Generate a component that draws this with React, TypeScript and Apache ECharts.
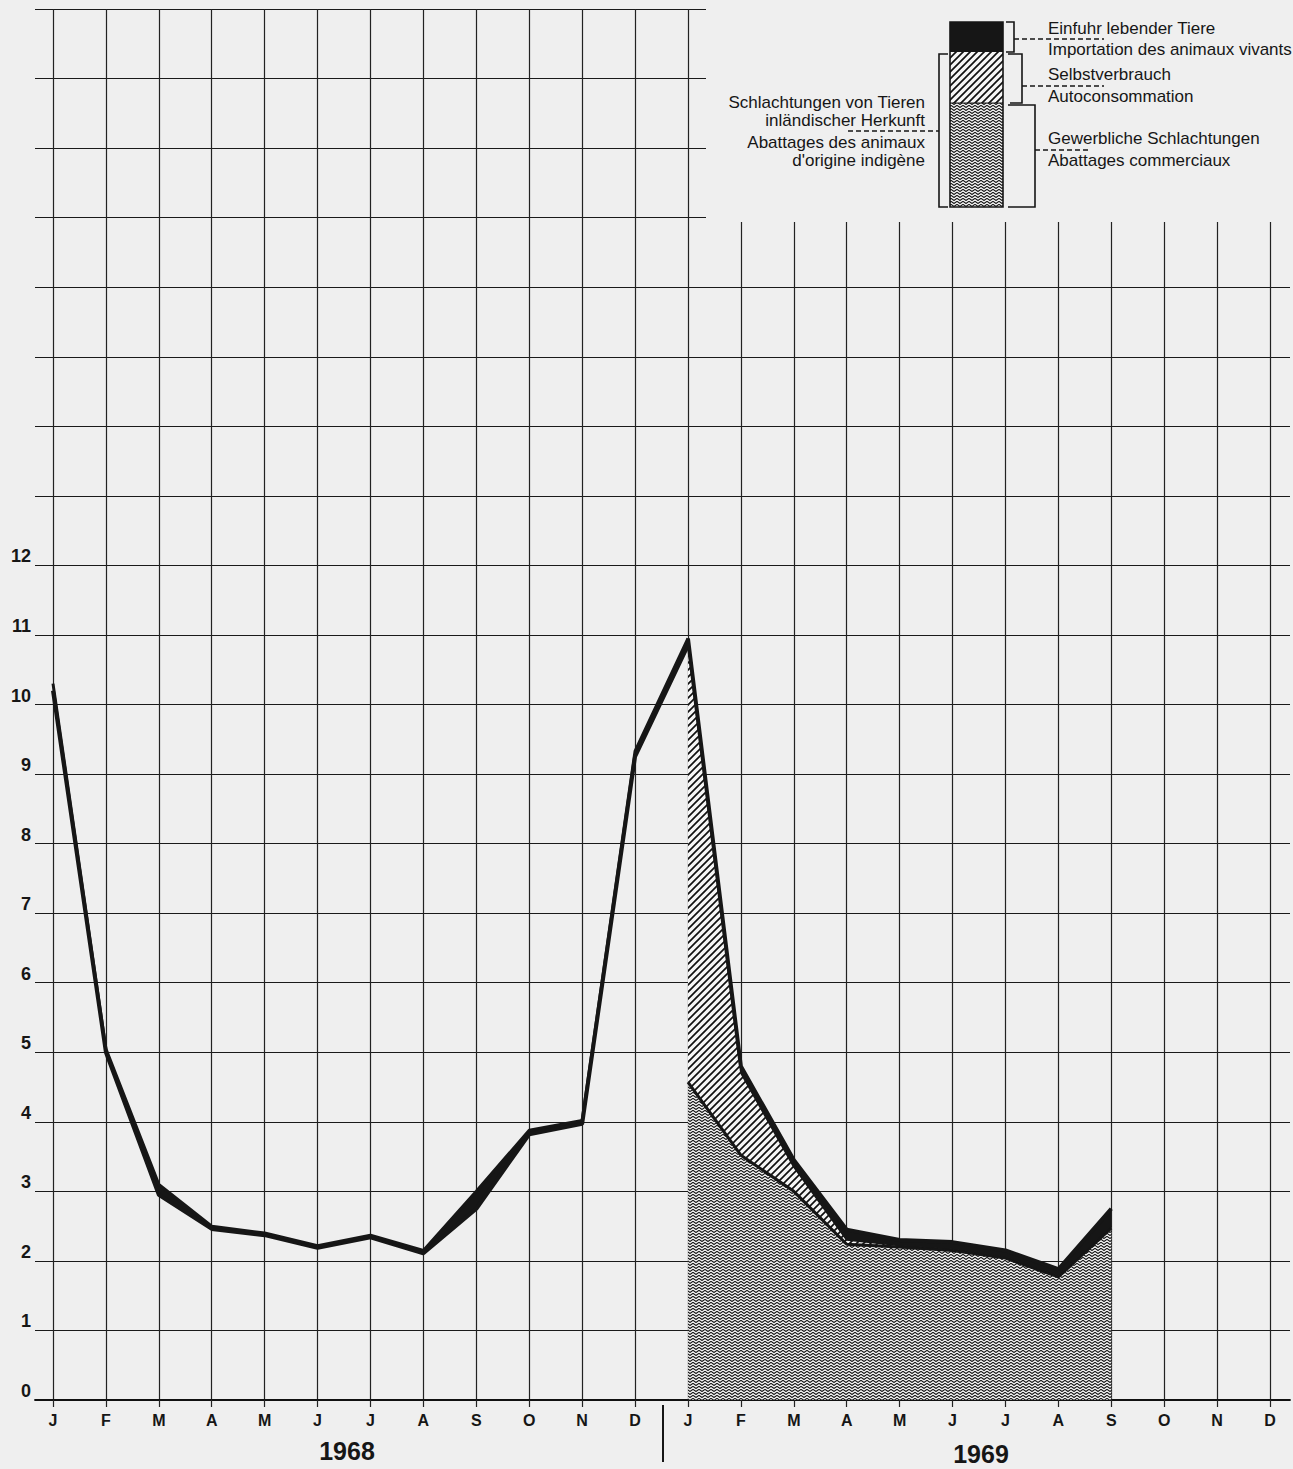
import React, { useEffect, useRef } from "react";
import * as echarts from "echarts";

const monthLabels = ["J", "F", "M", "A", "M", "J", "J", "A", "S", "O", "N", "D", "J", "F", "M", "A", "M", "J", "J", "A", "S", "O", "N", "D"];
const yTickLabels = ["0", "1", "2", "3", "4", "5", "6", "7", "8", "9", "10", "11", "12"];

// 1968 (Jan 1968 .. Jan 1969): inland slaughter level and import layer on top
const inland68 = [10.2, 5.0, 2.95, 2.46, 2.37, 2.19, 2.34, 2.11, 2.75, 3.82, 3.97, 9.25, 10.85];
const import68 = [0.1, 0.05, 0.15, 0.04, 0.03, 0.03, 0.03, 0.04, 0.25, 0.06, 0.05, 0.08, 0.1];

// 1969 (Jan .. Sep 1969), stacked layers
const commercial69 = [4.57, 3.52, 3.0, 2.24, 2.2, 2.15, 2.04, 1.77, 2.47];
const selfUse69 = [6.28, 1.18, 0.35, 0.06, 0.02, 0.02, 0.02, 0.01, 0.03];
const import69 = [0.1, 0.1, 0.1, 0.15, 0.08, 0.1, 0.09, 0.1, 0.25];

const FONT = "'Liberation Sans', Arial, sans-serif";
const BG = "#efefef";
const INK = "#161616";

function pad(start: number, arr: number[]) {
  const out: (number | string)[] = [];
  for (let i = 0; i < 24; i++) {
    const j = i - start;
    out.push(j >= 0 && j < arr.length ? arr[j] : "-");
  }
  return out;
}

function makeHatch() {
  const s = 7;
  const c = document.createElement("canvas");
  c.width = s;
  c.height = s;
  const g = c.getContext("2d")!;
  g.fillStyle = "#f6f6f6";
  g.fillRect(0, 0, s, s);
  g.strokeStyle = "#111";
  g.lineWidth = 1.7;
  g.beginPath();
  g.moveTo(-1, s + 1);
  g.lineTo(s + 1, -1);
  g.moveTo(-1, 1);
  g.lineTo(1, -1);
  g.moveTo(s - 1, s + 1);
  g.lineTo(s + 1, s - 1);
  g.stroke();
  return { image: c, repeat: "repeat", imageWidth: s, imageHeight: s };
}

function makeZigzag() {
  const w = 6;
  const h = 3;
  const c = document.createElement("canvas");
  c.width = w;
  c.height = h;
  const g = c.getContext("2d")!;
  g.fillStyle = "#f2f2f2";
  g.fillRect(0, 0, w, h);
  g.strokeStyle = "#111";
  g.lineWidth = 1.15;
  g.beginPath();
  g.moveTo(-0.5, 2.8);
  g.lineTo(w / 2, 0.4);
  g.lineTo(w + 0.5, 2.8);
  g.stroke();
  return { image: c, repeat: "repeat", imageWidth: w, imageHeight: h };
}

export default function App() {
  const ref = useRef<HTMLDivElement>(null);

  useEffect(() => {
    if (!ref.current) return;
    const chart = echarts.init(ref.current, null, { renderer: "svg" });
    const hatch = makeHatch();
    const zig = makeZigzag();

    const legendText = (x: number, y: number, text: string, align: string) => ({
      type: "text",
      z: 120,
      x,
      y,
      style: { text, fill: INK, font: `17px ${FONT}`, align, verticalAlign: "middle" },
    });
    const dash = (x1: number, y1: number, x2: number, y2: number) => ({
      type: "line",
      z: 120,
      shape: { x1, y1, x2, y2 },
      style: { stroke: INK, lineWidth: 1.6, lineDash: [5, 3] },
    });
    const poly = (points: number[][]) => ({
      type: "polyline",
      z: 120,
      shape: { points },
      style: { stroke: INK, lineWidth: 1.6, fill: null },
    });

    const option: any = {
      animation: false,
      backgroundColor: BG,
      grid: [
        { left: 53, right: 23, top: 9, bottom: 69 },
        { left: 35, right: 3, top: 9, bottom: 69 },
      ],
      xAxis: [
        {
          type: "category",
          gridIndex: 0,
          data: monthLabels,
          boundaryGap: false,
          axisLine: { show: false },
          axisTick: { show: true, length: 7, interval: 0, lineStyle: { color: "#222", width: 1.2 } },
          axisLabel: { interval: 0, margin: 12, fontSize: 16, fontWeight: "bold", color: INK, fontFamily: FONT },
          splitLine: { show: true, interval: 0, lineStyle: { color: "#222", width: 1.2 } },
        },
        {
          type: "value",
          gridIndex: 1,
          min: 0,
          max: 1,
          axisLine: { show: true, lineStyle: { color: "#111", width: 1.8 } },
          axisTick: { show: false },
          axisLabel: { show: false },
          splitLine: { show: false },
        },
      ],
      yAxis: [
        { type: "value", gridIndex: 0, min: 0, max: 20, interval: 1, show: false },
        {
          type: "value",
          gridIndex: 1,
          min: 0,
          max: 20,
          interval: 1,
          axisLine: { show: false },
          axisTick: { show: false },
          axisLabel: {
            margin: 4,
            fontSize: 18,
            fontWeight: "bold",
            color: INK,
            fontFamily: FONT,
            verticalAlign: "bottom",
            formatter: (v: number) => (v < yTickLabels.length ? yTickLabels[v] : ""),
          },
          splitLine: { show: true, lineStyle: { color: "#1a1a1a", width: 1.2 } },
        },
      ],
      series: [
        {
          type: "line",
          name: "Schlachtungen 1968",
          stack: "y68",
          data: pad(0, inland68),
          showSymbol: false,
          lineStyle: { color: INK, width: 4 },
          z: 3,
        },
        {
          type: "line",
          name: "Einfuhr 1968",
          stack: "y68",
          data: pad(0, import68),
          showSymbol: false,
          lineStyle: { color: INK, width: 3 },
          areaStyle: { color: INK, opacity: 1 },
          z: 3,
        },
        {
          type: "line",
          name: "Gewerbliche Schlachtungen",
          stack: "y69",
          data: pad(12, commercial69),
          showSymbol: false,
          lineStyle: { color: INK, width: 3 },
          areaStyle: { color: zig, opacity: 1 },
          z: 2,
        },
        {
          type: "line",
          name: "Selbstverbrauch",
          stack: "y69",
          data: pad(12, selfUse69),
          showSymbol: false,
          lineStyle: { color: INK, width: 1.5 },
          areaStyle: { color: hatch, opacity: 1 },
          z: 2,
        },
        {
          type: "line",
          name: "Einfuhr lebender Tiere",
          stack: "y69",
          data: pad(12, import69),
          showSymbol: false,
          lineStyle: { color: INK, width: 4 },
          areaStyle: { color: INK, opacity: 1 },
          z: 4,
        },
      ],
      graphic: [
        { type: "rect", z: 100, shape: { x: 706, y: 0, width: 600, height: 222 }, style: { fill: BG } },
        // legend bar
        { type: "rect", z: 110, shape: { x: 950, y: 103, width: 53, height: 104 }, style: { fill: zig } },
        { type: "rect", z: 110, shape: { x: 950, y: 52, width: 53, height: 51 }, style: { fill: hatch } },
        { type: "rect", z: 110, shape: { x: 950, y: 22, width: 53, height: 30 }, style: { fill: INK } },
        { type: "line", z: 111, shape: { x1: 950, y1: 103, x2: 1003, y2: 103 }, style: { stroke: INK, lineWidth: 1 } },
        { type: "rect", z: 111, shape: { x: 950, y: 22, width: 53, height: 185 }, style: { fill: null, stroke: INK, lineWidth: 1.6 } },
        // brackets
        poly([[948, 54], [939, 54], [939, 207], [948, 207]]),
        poly([[1006, 22], [1014, 22], [1014, 52], [1006, 52]]),
        poly([[1008, 54], [1022, 54], [1022, 103], [1010, 103]]),
        poly([[1008, 105], [1035, 105], [1035, 207], [1008, 207]]),
        // dashed connectors
        dash(1014, 39, 1104, 39),
        dash(1022, 86, 1104, 86),
        dash(1035, 150, 1090, 150),
        dash(848, 131, 939, 131),
        // legend texts
        legendText(1048, 28, "Einfuhr lebender Tiere", "left"),
        legendText(1048, 49, "Importation des animaux vivants", "left"),
        legendText(1048, 74, "Selbstverbrauch", "left"),
        legendText(1048, 96, "Autoconsommation", "left"),
        legendText(1048, 138, "Gewerbliche Schlachtungen", "left"),
        legendText(1048, 160, "Abattages commerciaux", "left"),
        legendText(925, 102, "Schlachtungen von Tieren", "right"),
        legendText(925, 120, "inländischer Herkunft", "right"),
        legendText(925, 142, "Abattages des animaux", "right"),
        legendText(925, 160, "d'origine indigène", "right"),
        // year labels and separator
        {
          type: "text",
          z: 120,
          x: 347,
          y: 1451,
          style: { text: "1968", fill: INK, font: `bold 25px ${FONT}`, align: "center", verticalAlign: "middle" },
        },
        {
          type: "text",
          z: 120,
          x: 981,
          y: 1454,
          style: { text: "1969", fill: INK, font: `bold 25px ${FONT}`, align: "center", verticalAlign: "middle" },
        },
        { type: "line", z: 120, shape: { x1: 663, y1: 1405, x2: 663, y2: 1462 }, style: { stroke: INK, lineWidth: 2 } },
      ],
    };

    chart.setOption(option);
    return () => chart.dispose();
  }, []);

  return (
    <div
      ref={ref}
      style={{ position: "absolute", left: 0, top: 0, width: 1293, height: 1469 }}
    />
  );
}
